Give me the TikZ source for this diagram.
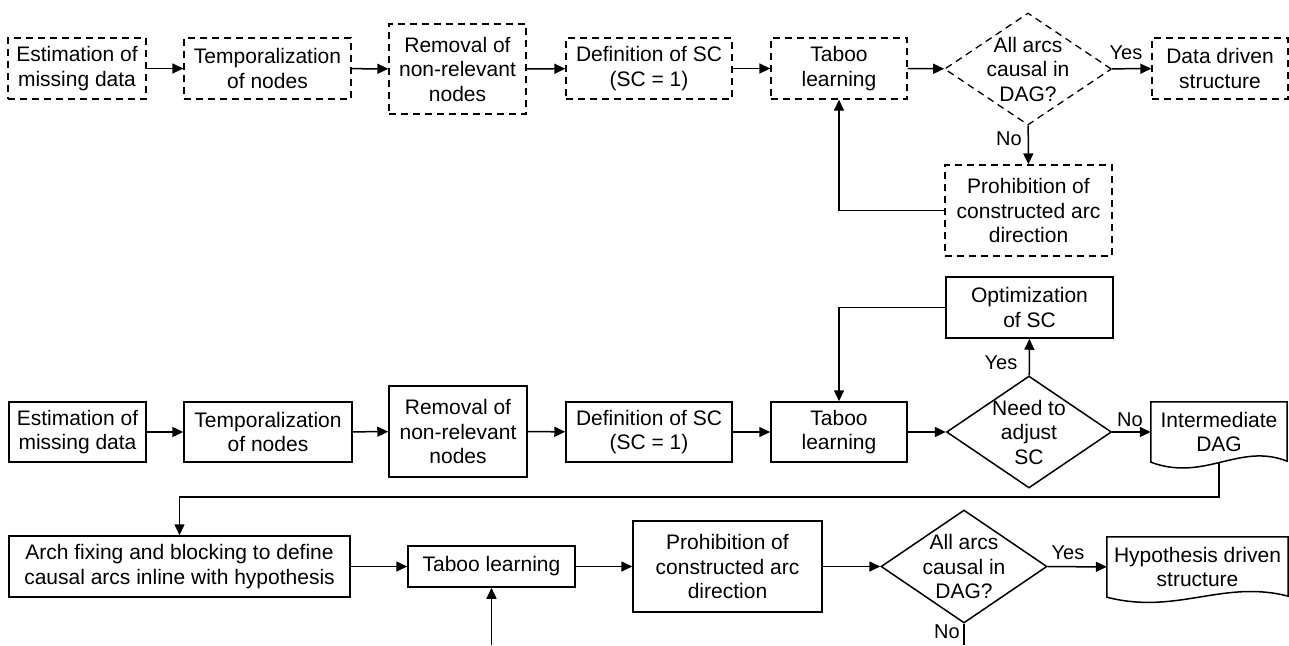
\documentclass[tikz,border=0pt]{standalone}
\usepackage{fontspec}
\setmainfont{Liberation Sans}
\usetikzlibrary{shapes.geometric,arrows.meta,calc}
\begin{document}
\begin{tikzpicture}[x=1pt,y=-1pt,
  every node/.style={font=\fontsize{21}{24.5}\selectfont},
  boxs/.style={draw,line width=1.5pt,rectangle,inner sep=0pt,align=center},
  dboxs/.style={boxs,dash pattern=on 7pt off 5pt,line width=1.3pt},
  dia/.style={draw,line width=1.5pt,diamond,inner sep=0pt,minimum width=166pt,minimum height=112pt},
  ddia/.style={dia,dash pattern=on 7pt off 5pt,line width=1.3pt},
  docs/.style={rectangle,inner sep=0pt,align=center},
  docline/.style={line width=1.5pt},
  arr/.style={line width=1.5pt,-{Triangle[length=11pt,width=10pt]}},
  ln/.style={line width=1.5pt},
  lab/.style={font=\fontsize{20}{24}\selectfont,inner sep=0pt}
]
\useasboundingbox (0,0) rectangle (1289,645);

% ---------- top row (dashed) ----------
\node[dboxs,minimum width=138pt,minimum height=61pt] (t1) at (77,68.5) {Estimation of\\missing data};
\node[dboxs,minimum width=167pt,minimum height=61pt] (t2) at (267.5,68.5) {Temporalization\\of nodes};
\node[dboxs,minimum width=137pt,minimum height=90pt] (t3) at (457.5,69) {Removal of\\non-relevant\\nodes};
\node[dboxs,minimum width=166pt,minimum height=61pt] (t4) at (649,68.5) {Definition of SC\\(SC = 1)};
\node[dboxs,minimum width=136pt,minimum height=61pt] (t5) at (839,68.5) {Taboo\\learning};
\node[ddia,minimum width=167pt] (td) at (1028,69) {};
\node[align=center] at (td.center) {All arcs\\causal in\\DAG?};
\node[dboxs,minimum width=136pt,minimum height=61pt] (t6) at (1220,68.5) {Data driven\\structure};
\node[dboxs,minimum width=167pt,minimum height=91pt] (tp) at (1028.5,210.5) {Prohibition of\\constructed arc\\direction};

\draw[arr] (t1) -- (t2);
\draw[arr] (t2) -- (t3);
\draw[arr] (t3) -- (t4);
\draw[arr] (t4) -- (t5);
\draw[arr] (t5) -- (td);
\draw[arr] (td) -- (t6);
\draw[arr] (td) -- (tp);
\draw[arr] (tp.west) -| (t5.south);
\node[lab] at (1126,53) {Yes};
\node[lab] at (1009,139) {No};

% ---------- middle row (solid) ----------
\node[boxs,minimum width=137pt,minimum height=60pt] (m1) at (77.5,432) {Estimation of\\missing data};
\node[boxs,minimum width=168pt,minimum height=60pt] (m2) at (268,432) {Temporalization\\of nodes};
\node[boxs,minimum width=138pt,minimum height=91pt] (m3) at (458,431.5) {Removal of\\non-relevant\\nodes};
\node[boxs,minimum width=166pt,minimum height=60pt] (m4) at (649,432) {Definition of SC\\(SC = 1)};
\node[boxs,minimum width=136pt,minimum height=60pt] (m5) at (839,432) {Taboo\\learning};
\node[dia,minimum width=165pt] (md) at (1029,432) {};
\node[align=center] at (md.center) {Need to\\adjust\\SC};
\node[boxs,minimum width=167pt,minimum height=61pt] (mo) at (1029.5,307.5) {Optimization\\of SC};
\node[docs,minimum width=136pt,minimum height=60pt] (mi) at (1219,432) {Intermediate\\DAG};
\draw[docline] (mi.south east) -- (mi.north east) -- (mi.north west) -- (mi.south west)
  .. controls ($(mi.south west)+(54,20)$) and ($(mi.south east)+(-48,-20)$) .. ($(mi.south east)+(0,-1)$) -- cycle;

\draw[arr] (m1) -- (m2);
\draw[arr] (m2) -- (m3);
\draw[arr] (m3) -- (m4);
\draw[arr] (m4) -- (m5);
\draw[arr] (m5) -- (md);
\draw[arr] (md) -- (mo);
\draw[arr] (mo.west) -| (m5.north);
\draw[arr] (md) -- (mi);
\node[lab] at (1001,363) {Yes};
\node[lab] at (1130,420) {No};

% ---------- bottom row ----------
\node[boxs,minimum width=341pt,minimum height=61pt] (b1) at (179.5,566.5) {Arch fixing and blocking to define\\causal arcs inline with hypothesis};
\node[boxs,minimum width=167pt,minimum height=41pt] (b2) at (491.5,566.5) {Taboo learning};
\node[boxs,minimum width=189pt,minimum height=91pt] (b3) at (727.5,566.5) {Prohibition of\\constructed arc\\direction};
\node[dia,minimum width=166pt,minimum height=113pt] (bd) at (964,566.5) {};
\node[align=center] at (bd.center) {All arcs\\causal in\\DAG?};
\node[docs,minimum width=181pt,minimum height=60pt] (bh) at (1197.5,567) {Hypothesis driven\\structure};
\draw[docline] (bh.south east) -- (bh.north east) -- (bh.north west) -- (bh.south west)
  .. controls ($(bh.south west)+(70,18)$) and ($(bh.south east)+(-65,-18)$) .. ($(bh.south east)+(0,-1)$) -- cycle;

\coordinate (nofree) at (964,645);
\coordinate (infree) at (491.5,645);

\draw[arr] (mi.south) -- ++(0,35) -| (b1.north);
\draw[arr] (b1) -- (b2);
\draw[arr] (b2) -- (b3);
\draw[arr] (b3) -- (bd);
\draw[arr] (bd) -- (bh);
\draw[ln] (bd.south) -- (nofree);
\draw[arr] (infree) -- (b2.south);
\node[lab] at (1068,553) {Yes};
\node[lab] at (947,632) {No};
\end{tikzpicture}
\end{document}
